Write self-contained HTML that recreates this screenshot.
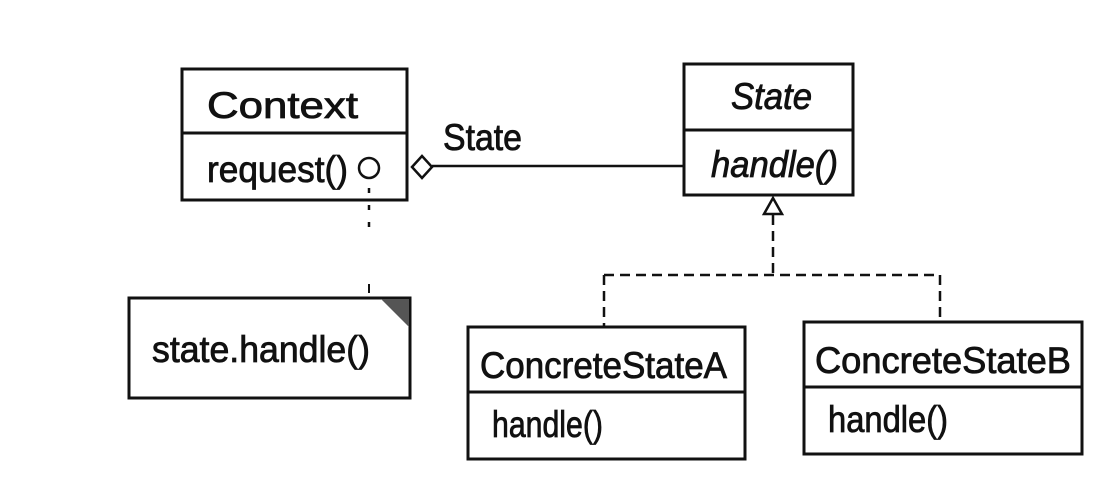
<!DOCTYPE html>
<html><head><meta charset="utf-8"><style>html,body{margin:0;padding:0;background:#fff}svg{display:block}</style></head>
<body>
<svg width="1110" height="494" viewBox="0 0 1110 494" xmlns="http://www.w3.org/2000/svg" font-family="Liberation Sans, Arial, sans-serif" font-size="37" fill="#111">
<g stroke="#111" stroke-width="3" fill="none">
<rect x="182" y="69" width="225" height="131"/>
<line x1="182" y1="133" x2="407" y2="133"/>
<rect x="684" y="64" width="169" height="131"/>
<line x1="684" y1="130" x2="853" y2="130"/>
<rect x="129" y="298" width="281" height="100"/>
<rect x="468" y="327" width="277" height="132"/>
<line x1="468" y1="392" x2="745" y2="392"/>
<rect x="804" y="322" width="278" height="132"/>
<line x1="804" y1="387" x2="1082" y2="387"/>
<line x1="432" y1="166" x2="684" y2="166" stroke-width="2.5"/>
<polygon points="412,167 422,156 432,167 422,178" stroke-width="2.5" fill="#fff"/>
<circle cx="369" cy="168" r="10" stroke-width="2.5"/>
<line x1="369" y1="188" x2="369" y2="230" stroke-width="2.5" stroke-dasharray="5,12"/>
<line x1="369" y1="284" x2="369" y2="293" stroke-width="2"/>
<polygon points="773,198 764,214 782,214" stroke-width="2.5" fill="#fff"/>
<path d="M773 215 V274 M604 275 H940 M604 275 V327 M940 275 V322" stroke-width="2.5" stroke-dasharray="10,6"/>
</g>
<polygon points="381,299 409,299 409,327" fill="#555"/>
<g stroke="#111" stroke-width="0.8">
<text x="207" y="118" textLength="151" lengthAdjust="spacingAndGlyphs">Context</text>
<text x="207" y="182" textLength="141" lengthAdjust="spacingAndGlyphs">request()</text>
<text x="443" y="150" textLength="79" lengthAdjust="spacingAndGlyphs">State</text>
<text x="731" y="109" font-style="italic" textLength="81" lengthAdjust="spacingAndGlyphs">State</text>
<text x="711" y="177" font-style="italic" textLength="127" lengthAdjust="spacingAndGlyphs">handle()</text>
<text x="152" y="362" textLength="218" lengthAdjust="spacingAndGlyphs">state.handle()</text>
<text x="480" y="378" textLength="247" lengthAdjust="spacingAndGlyphs">ConcreteStateA</text>
<text x="492" y="437" textLength="111" lengthAdjust="spacingAndGlyphs">handle()</text>
<text x="815" y="373" textLength="256" lengthAdjust="spacingAndGlyphs">ConcreteStateB</text>
<text x="828" y="432" textLength="120" lengthAdjust="spacingAndGlyphs">handle()</text>
</g>
</svg>
</body></html>
